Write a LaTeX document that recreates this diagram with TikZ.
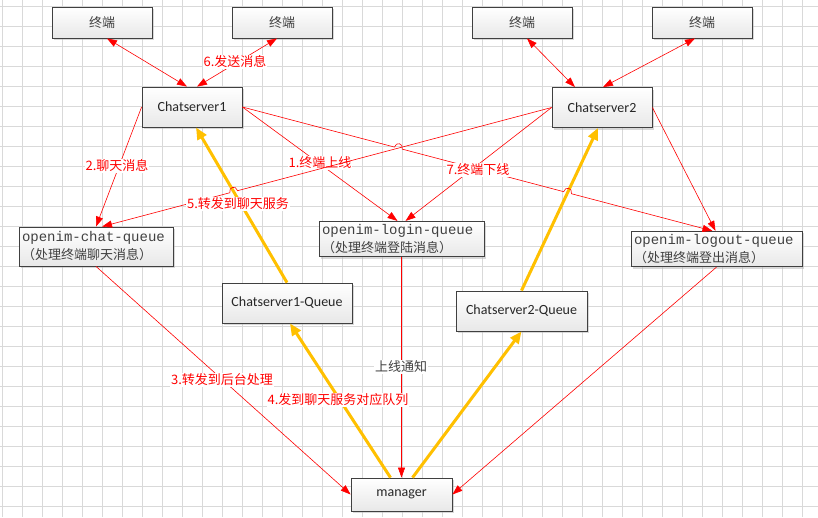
\documentclass[tikz,border=0pt]{standalone}
\usepackage{fontspec}
\setmainfont{Noto Sans CJK SC}
\newfontfamily\latfont{Carlito}
\newfontfamily\qfont{Liberation Mono}
\usetikzlibrary{arrows.meta,calc,intersections,shadows}
\definecolor{msgred}{HTML}{FF0000}
\definecolor{relaygold}{HTML}{FFC000}
\definecolor{gridgray}{HTML}{D9D9D9}
\definecolor{boxline}{HTML}{404040}
% hop over a crossing: #1 crossing point, #2 and #3 the two ends of the line
\newcommand\hopdef[3]{%
  \coordinate (#1a) at ($(#1)!4pt!(#2)$);
  \coordinate (#1b) at ($(#1)!4pt!(#3)$);
  \coordinate (#1c) at ($(#1a)!6pt!90:(#1b)$);
  \coordinate (#1d) at ($(#1b)!6pt!-90:(#1a)$);}
\newcommand\qname[1]{{\qfont\fontsize{14}{18}\selectfont #1}}
\tikzset{
  >={Triangle[length=10pt,width=7pt]},
  box/.style={draw=boxline, line width=0.8pt, top color=white, bottom color=black!9,
    drop shadow={shadow xshift=2pt, shadow yshift=-2pt, fill=black!30, opacity=0.5}, inner sep=3pt},
  term/.style={box, minimum width=100pt, minimum height=31pt, text=black!75,
    font=\fontsize{13}{15}\selectfont},
  server/.style={box, minimum width=100pt, minimum height=40pt, text=black!85,
    font=\latfont\fontsize{14}{16}\selectfont},
  queue/.style={box, align=left, text=black!75, font=\fontsize{13}{18}\selectfont},
  msg/.style={draw=msgred, line width=0.6pt, ->},
  relay/.style={draw=relaygold, line width=3pt, -{Triangle[length=12pt,width=10pt]}},
  lbl/.style={fill=white, text=msgred, inner sep=1pt, font=\fontsize{13}{15}\selectfont},
}
\begin{document}
\begin{tikzpicture}[x=1pt,y=-1pt]
\useasboundingbox (0,0) rectangle (818,517);
\fill[white] (0,0) rectangle (818,517);
% grid
\foreach \x in {2,22,...,802}
\draw[gridgray, line width=0.8pt] (\x,0) -- (\x,517);
\foreach \y in {6,26,...,506}
\draw[gridgray, line width=0.8pt] (0,\y) -- (818,\y);
% boxes
\node[term] (t1) at (102,22.5) {终端};
\node[term] (t2) at (282,22.5) {终端};
\node[term] (t3) at (522,22.5) {终端};
\node[term] (t4) at (702,22.5) {终端};
\node[server] (cs1) at (192,107) {Chatserver1};
\node[server] (cs2) at (602,107.5) {Chatserver2};
\node[queue, text width=148pt, minimum height=39pt] (chatq) at (96,246.5)
  {\qname{openim-chat-queue}\\（处理终端聊天消息）};
\node[queue, text width=159pt, minimum height=35pt] (logq) at (401.5,239)
  {\qname{openim-login-queue}\\（处理终端登陆消息）};
\node[queue, text width=165pt, minimum height=34pt] (logoq) at (716.5,249)
  {\qname{openim-logout-queue}\\（处理终端登出消息）};
\node[server, minimum width=130pt] (csq1) at (287,303) {Chatserver1-Queue};
\node[server, minimum width=131pt] (csq2) at (521.5,311) {Chatserver2-Queue};
\node[server, minimum width=101pt, minimum height=33pt] (mgr) at (401.5,494.5) {manager};
% terminals <-> servers
\draw[msg, <->] ([xshift=5pt]t1.south) -- ([xshift=-5pt]cs1.north);
\draw[msg, <->] ([xshift=-5pt]t2.south) -- ([xshift=5pt]cs1.north);
\node[lbl] (l6) at (235,62) {6.发送消息};
\draw[msg, <->] ([xshift=5pt]t3.south) -- ([xshift=-27pt]cs2.north);
\draw[msg, <->] ([xshift=-7pt]t4.south) -- ([xshift=1pt]cs2.north);
% chatserver1 -> queues
\draw[msg] (cs1.east) -- ([xshift=-4pt]logq.north);
\node[lbl] (l1) at (320,163) {1.终端上线};
\draw[msg] (cs1.west) -- (chatq.north);
\node[lbl] (l2) at (117,166) {2.聊天消息};
\draw[msg] (chatq.south) -- (mgr.west);
\node[lbl] (l3) at (222,380) {3.转发到后台处理};
% server queues
\draw[relay, name path=y1] (csq1.north) -- ([xshift=4pt]cs1.south);
\draw[relay] ([xshift=-11pt]mgr.north) -- ([xshift=3pt]csq1.south);
\draw[relay] ([xshift=11pt]mgr.north) -- (csq2.south);
\draw[relay, name path=y2] (csq2.north) -- ([xshift=-4pt]cs2.south);
\draw[msg] (logq.south) -- (mgr.north);
\node[lbl, text=black!75] (lon) at (401,367) {上线通知};
\node[lbl] (l4) at (338,400) {4.发到聊天服务对应队列};
% chatserver2 -> chat queue, hop over the yellow line
\coordinate (l5a) at ([xshift=6pt]chatq.north);
\path[name path=l5] (cs2.west) -- (l5a);
\path[name intersections={of=l5 and y1, by=h3}];
\hopdef{h3}{l5a}{cs2.west}
\draw[msg, <-] (l5a) -- (h3a) .. controls (h3c) and (h3d) .. (h3b) -- (cs2.west);
\draw[msg] (cs2.west) -- ([xshift=4pt]logq.north);
\draw[msg] (cs2.east) -- ([xshift=-1pt]logoq.north);
\draw[msg] (logoq.south) -- (mgr.east);
% chatserver1 -> logout queue, two hops
\coordinate (l7b) at ([xshift=-4pt]logoq.north);
\path[name path=l7] (cs1.east) -- (l7b);
\path[name intersections={of=l7 and l5, by=h1}];
\path[name intersections={of=l7 and y2, by=h2}];
\hopdef{h1}{cs1.east}{l7b}
\hopdef{h2}{cs1.east}{l7b}
\draw[msg] (cs1.east) -- (h1a) .. controls (h1c) and (h1d) .. (h1b)
  -- (h2a) .. controls (h2c) and (h2d) .. (h2b) -- (l7b);
\node[lbl] (l5) at (238,204) {5.转发到聊天服务};
\node[lbl] (l7) at (478,170) {7.终端下线};
\end{tikzpicture}
\end{document}
